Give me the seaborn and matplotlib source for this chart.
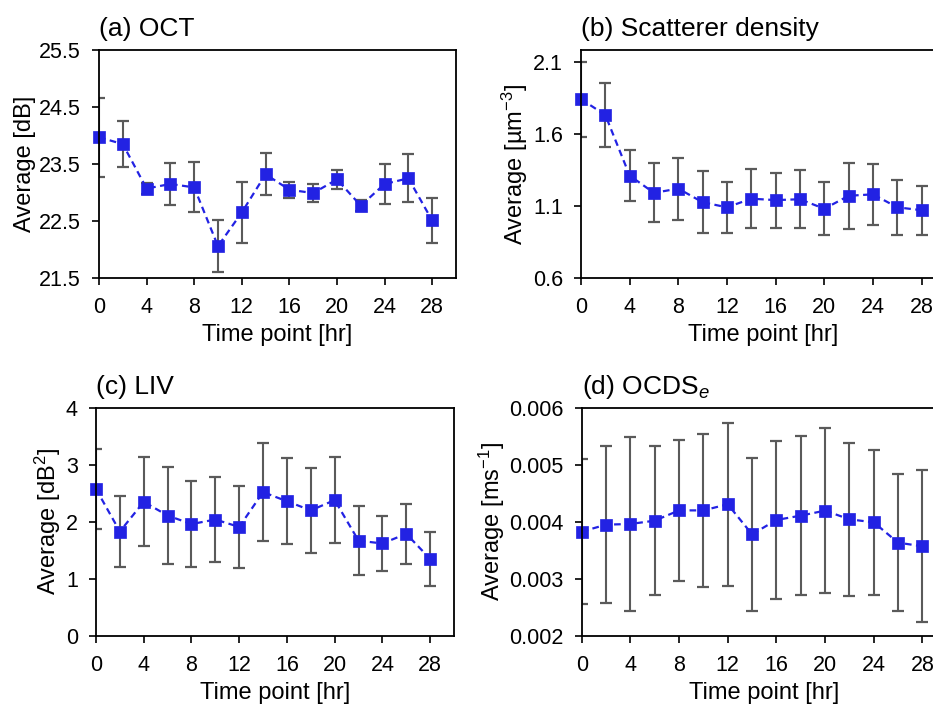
import numpy as np
import pandas as pd
import seaborn as sns
import matplotlib.pyplot as plt
from matplotlib.ticker import FormatStrFormatter

# time points shared by all panels
time_hr = [0, 2, 4, 6, 8, 10, 12, 14, 16, 18, 20, 22, 24, 26, 28]

# (a) OCT
oct_mean = [23.97, 23.85, 23.07, 23.15, 23.09, 22.06, 22.65, 23.32, 23.05, 22.99, 23.23, 22.77, 23.15, 23.25, 22.51]
oct_err = [0.69, 0.40, 0.10, 0.36, 0.44, 0.45, 0.54, 0.37, 0.14, 0.16, 0.17, 0.10, 0.35, 0.42, 0.39]

# (b) scatterer density
dens_mean = [1.84, 1.73, 1.31, 1.19, 1.22, 1.125, 1.09, 1.15, 1.14, 1.146, 1.08, 1.17, 1.18, 1.09, 1.07]
dens_err = [0.26, 0.22, 0.175, 0.205, 0.215, 0.215, 0.175, 0.205, 0.19, 0.20, 0.185, 0.23, 0.21, 0.19, 0.17]

# (c) LIV
liv_mean = [2.575, 1.83, 2.35, 2.11, 1.96, 2.04, 1.91, 2.52, 2.36, 2.20, 2.38, 1.67, 1.62, 1.79, 1.35]
liv_err = [0.70, 0.63, 0.78, 0.85, 0.75, 0.74, 0.72, 0.86, 0.75, 0.75, 0.76, 0.60, 0.48, 0.53, 0.47]

# (d) OCDS_e
ocds_mean = [0.003828, 0.00395, 0.003962, 0.00402, 0.0042, 0.0042, 0.004307, 0.003781, 0.004032,
             0.004108, 0.004196, 0.004044, 0.003991, 0.003635, 0.003571]
ocds_err = [0.00127, 0.00137, 0.00152, 0.0013, 0.00124, 0.00134, 0.00143, 0.00134, 0.00138,
            0.00139, 0.00145, 0.00134, 0.00127, 0.0012, 0.00133]

sns.set_style("white")
plt.rcParams['font.family'] = ['Liberation Sans', 'DejaVu Sans']
plt.rcParams['mathtext.fontset'] = 'custom'
plt.rcParams['mathtext.rm'] = 'Liberation Sans'
plt.rcParams['mathtext.it'] = 'Liberation Sans:italic'
for k in ['text.color', 'axes.labelcolor', 'xtick.color', 'ytick.color']:
    plt.rcParams[k] = 'black'

BLUE = "#2222e3"
GRAY = "#5a5a5a"

fig = plt.figure(figsize=(9.33, 7.06), dpi=100)

panels = [
    # title, ylabel, mean, err, ylim, yticks, fmt, position
    ("(a) OCT", "Average [dB]", oct_mean, oct_err, (21.5, 25.5), [21.5, 22.5, 23.5, 24.5, 25.5], '%.1f',
     [0.1061, 0.6062, 0.3826, 0.3229]),
    ("(b) Scatterer density", "Average [µm$^{-3}$]", dens_mean, dens_err, (0.6, 2.18), [0.6, 1.1, 1.6, 2.1], '%.1f',
     [0.6227, 0.6062, 0.3912, 0.3229]),
    ("(c) LIV", "Average [dB$^{2}$]", liv_mean, liv_err, (0, 4), [0, 1, 2, 3, 4], '%d',
     [0.1029, 0.0992, 0.3837, 0.3234]),
    ("(d) OCDS$_{e}$", "Average [ms$^{-1}$]", ocds_mean, ocds_err, (0.002, 0.006),
     [0.002, 0.003, 0.004, 0.005, 0.006], '%.3f',
     [0.6235, 0.0992, 0.3912, 0.3234]),
]

for title, ylabel, mean, err, ylim, yticks, fmt, pos in panels:
    ax = fig.add_axes(pos)
    df = pd.DataFrame({"t": time_hr, "mean": mean, "err": err})

    ax.errorbar(df["t"], df["mean"], yerr=df["err"], fmt='none', ecolor=GRAY,
                elinewidth=1.5, capsize=4.5, capthick=1.6, zorder=2)
    sns.lineplot(data=df, x="t", y="mean", ax=ax, color=BLUE, marker='s', markersize=9,
                 markeredgecolor=BLUE, markeredgewidth=0.5, linewidth=1.6, linestyle='--',
                 dashes=False, zorder=3)
    ln = ax.lines[-1]
    ln.set_dashes((3, 2))
    ln.set_clip_on(False)

    ax.set_xlim(0, 30)
    ax.set_ylim(*ylim)
    ax.set_xticks(range(0, 29, 4))
    ax.set_yticks(yticks)
    ax.yaxis.set_major_formatter(FormatStrFormatter(fmt))

    for s in ax.spines.values():
        s.set_color("black")
        s.set_linewidth(1.3)
        s.set_zorder(4)
    ax.tick_params(axis='both', direction='out', length=5, width=1.2, color='black',
                   labelsize=15.5, left=True, bottom=True)
    ax.tick_params(axis='x', pad=9)
    ax.tick_params(axis='y', pad=8)

    ax.set_xlabel("Time point [hr]", fontsize=17, labelpad=4)
    ax.set_ylabel(ylabel, fontsize=17, labelpad=2)
    ax.set_title(title, loc='left', fontsize=19, pad=10, x=0.0)

fig.savefig("out.png", dpi=100)
